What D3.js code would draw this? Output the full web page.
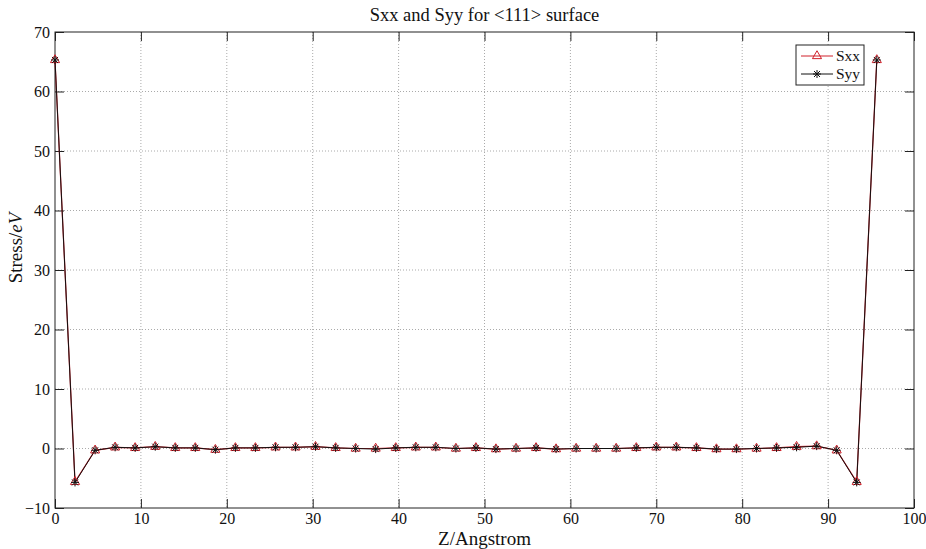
<!DOCTYPE html>
<html>
<head>
<meta charset="utf-8">
<script src="https://cdn.jsdelivr.net/npm/d3@7"></script>
<style>
body { margin: 0; background: #fff; }
svg text { font-family: "Liberation Serif", "Times New Roman", "DejaVu Serif", serif !important; }
</style>
</head>
<body>
<div id="chart"></div>
<script>
const width = 926;
const height = 549;
const margin = { top: 32, right: 12, bottom: 41, left: 55 };
const serif = '"Liberation Serif", "Times New Roman", "DejaVu Serif", serif';

// data
const zValues = [0, 2.33, 4.67, 7, 9.33, 11.67, 14, 16.33, 18.67, 21, 23.33, 25.67, 28, 30.33,
	32.67, 35, 37.33, 39.67, 42, 44.33, 46.67, 49, 51.33, 53.67, 56, 58.33, 60.67, 63,
	65.33, 67.67, 70, 72.33, 74.67, 77, 79.33, 81.67, 84, 86.33, 88.67, 91, 93.33, 95.67];
const sxx = [65.3, -5.6, -0.3, 0.2, 0.1, 0.3, 0.1, 0.1, -0.2, 0.1, 0.1, 0.2, 0.2, 0.3,
	0.1, 0.0, 0.0, 0.1, 0.2, 0.2, 0.0, 0.1, -0.1, 0.0, 0.1, -0.1, 0.0, 0.0,
	0.0, 0.1, 0.2, 0.2, 0.1, -0.1, -0.1, 0.0, 0.1, 0.3, 0.4, -0.3, -5.6, 65.3];
const syy = [65.3, -5.7, -0.3, 0.2, 0.1, 0.3, 0.1, 0.1, -0.2, 0.1, 0.1, 0.2, 0.2, 0.3,
	0.1, 0.0, -0.1, 0.1, 0.2, 0.2, 0.0, 0.1, -0.1, 0.0, 0.1, -0.1, 0.0, 0.0,
	0.0, 0.1, 0.2, 0.2, 0.1, -0.1, -0.1, 0.0, 0.1, 0.2, 0.4, -0.3, -5.7, 65.3];
const xTicks = [0, 10, 20, 30, 40, 50, 60, 70, 80, 90, 100];
const yTicks = [-10, 0, 10, 20, 30, 40, 50, 60, 70];

const svg = d3.select("#chart").append("svg")
	.attr("width", width)
	.attr("height", height)
	.attr("font-family", serif);

const x = d3.scaleLinear().domain([0, 100]).range([margin.left, width - margin.right]);
const y = d3.scaleLinear().domain([-10, 70]).range([height - margin.bottom, margin.top]);

// grid
const grid = svg.append("g")
	.attr("stroke", "#aaa")
	.attr("stroke-width", 1)
	.attr("stroke-dasharray", "1,2");
grid.selectAll(".gx").data(xTicks.slice(1, -1)).join("line")
	.attr("x1", d => x(d)).attr("x2", d => x(d))
	.attr("y1", y(70)).attr("y2", y(-10));
grid.selectAll(".gy").data(yTicks.slice(1, -1)).join("line")
	.attr("x1", x(0)).attr("x2", x(100))
	.attr("y1", d => y(d)).attr("y2", d => y(d));

// axes with inward ticks, box all round
const tl = 9;
svg.append("g").attr("transform", `translate(0,${y(-10)})`)
	.call(d3.axisBottom(x).tickValues(xTicks).tickSize(-tl).tickPadding(5))
	.call(g => g.select(".domain").remove());
svg.append("g").attr("transform", `translate(0,${y(70)})`)
	.call(d3.axisTop(x).tickValues(xTicks).tickSize(-tl).tickFormat(""))
	.call(g => g.select(".domain").remove());
svg.append("g").attr("transform", `translate(${x(0)},0)`)
	.call(d3.axisLeft(y).tickValues(yTicks).tickSize(-tl).tickPadding(5))
	.call(g => g.select(".domain").remove());
svg.append("g").attr("transform", `translate(${x(100)},0)`)
	.call(d3.axisRight(y).tickValues(yTicks).tickSize(-tl).tickFormat(""))
	.call(g => g.select(".domain").remove());

svg.selectAll("g").attr("font-family", serif);
svg.selectAll(".tick line").attr("stroke", "#222");
svg.selectAll(".tick text")
	.attr("fill", "#111")
	.attr("font-size", 16);

svg.append("rect")
	.attr("x", x(0)).attr("y", y(70))
	.attr("width", x(100) - x(0)).attr("height", y(-10) - y(70))
	.attr("fill", "none").attr("stroke", "#222").attr("stroke-width", 1);

const sxxPts = zValues.map((z, i) => [z, sxx[i]]);
const syyPts = zValues.map((z, i) => [z, syy[i]]);
const line = d3.line().x(d => x(d[0])).y(d => y(d[1]));

const red = "#d0202a";

svg.append("path").datum(sxxPts)
	.attr("d", line).attr("fill", "none").attr("stroke", red).attr("stroke-width", 1.2);
svg.append("path").datum(syyPts)
	.attr("d", line).attr("fill", "none").attr("stroke", "#111").attr("stroke-width", 1);

const tri = d3.symbol().type(d3.symbolTriangle).size(36);
svg.append("g").selectAll("path").data(sxxPts).join("path")
	.attr("d", tri)
	.attr("transform", d => `translate(${x(d[0])},${y(d[1])})`)
	.attr("fill", "none").attr("stroke", red).attr("stroke-width", 1);

const star = "M-4,0L4,0M0,-4L0,4M-3,-3L3,3M-3,3L3,-3";
svg.append("g").selectAll("path").data(syyPts).join("path")
	.attr("d", star)
	.attr("transform", d => `translate(${x(d[0])},${y(d[1])})`)
	.attr("fill", "none").attr("stroke", "#111").attr("stroke-width", 1);

// legend
const lg = svg.append("g").attr("transform", "translate(796,45)");
lg.append("rect").attr("width", 68).attr("height", 40)
	.attr("fill", "#fff").attr("stroke", "#222").attr("stroke-width", 1);
const items = [{ name: "Sxx", color: red, mark: "tri" }, { name: "Syy", color: "#111", mark: "star" }];
items.forEach((it, i) => {
	const yy = 11 + i * 18;
	lg.append("line").attr("x1", 5).attr("x2", 37).attr("y1", yy).attr("y2", yy)
		.attr("stroke", it.color).attr("stroke-width", 1);
	lg.append("path")
		.attr("d", it.mark === "tri" ? tri : star)
		.attr("transform", `translate(21,${yy})`)
		.attr("fill", "none").attr("stroke", it.color);
	lg.append("text").attr("x", 40).attr("y", yy + 5)
		.attr("font-size", 15.5).attr("fill", "#111").text(it.name);
});

// titles
svg.append("text")
	.attr("x", (x(0) + x(100)) / 2).attr("y", 21)
	.attr("text-anchor", "middle")
	.attr("font-size", 18.5).attr("fill", "#111")
	.text("Sxx and Syy for <111> surface");

svg.append("text")
	.attr("x", (x(0) + x(100)) / 2).attr("y", 545)
	.attr("text-anchor", "middle")
	.attr("font-size", 19).attr("fill", "#111")
	.text("Z/Angstrom");

const yl = svg.append("text")
	.attr("transform", `translate(22,248) rotate(-90)`)
	.attr("text-anchor", "middle")
	.attr("font-size", 19).attr("fill", "#111");
yl.append("tspan").text("Stress/");
yl.append("tspan").attr("font-style", "italic").text("eV");
</script>
</body>
</html>
